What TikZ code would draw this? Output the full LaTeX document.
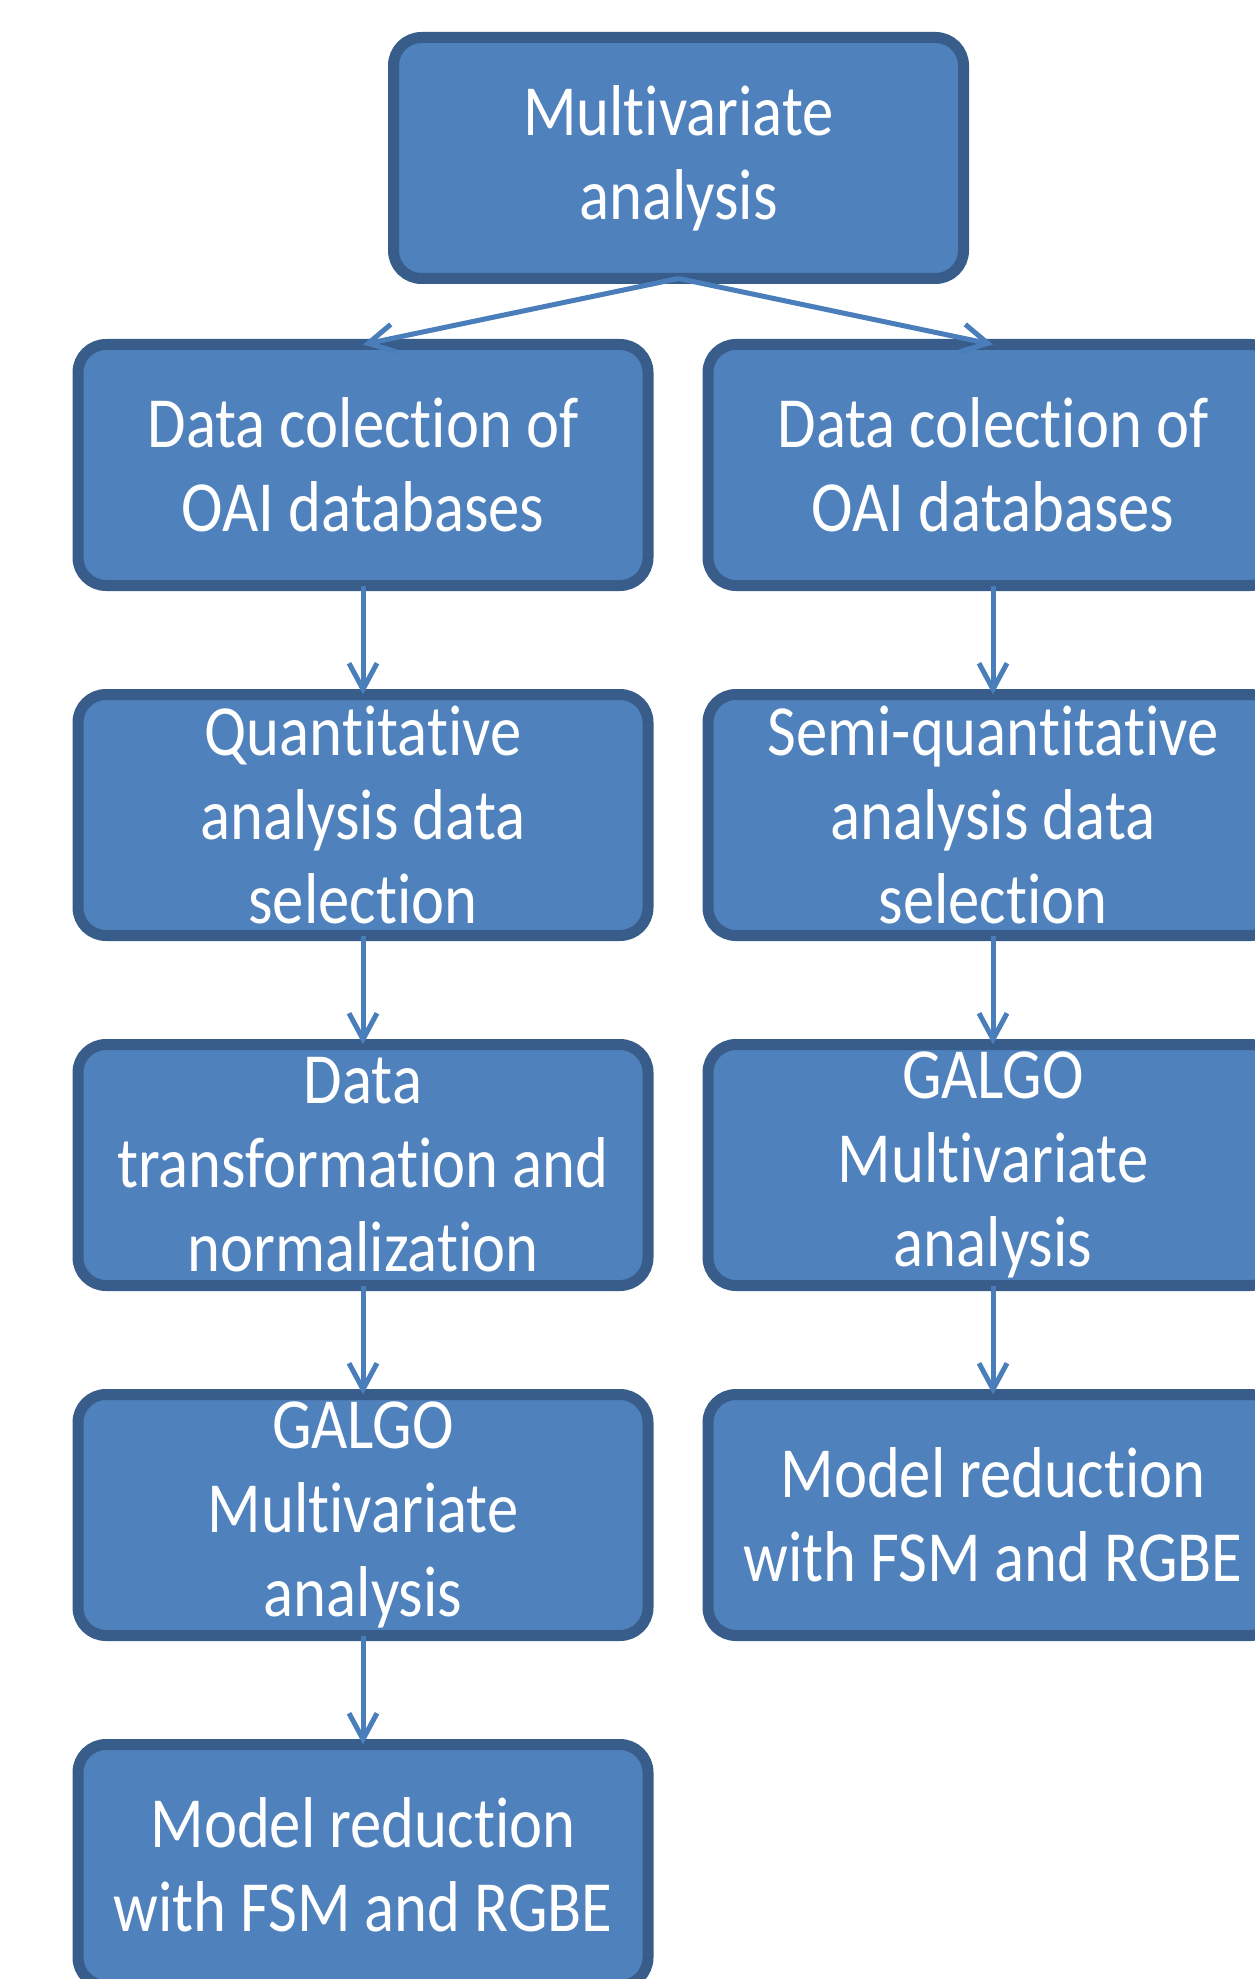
\documentclass[tikz,border=0pt]{standalone}
\usepackage{fontspec}
\setmainfont{Carlito}[FakeStretch=0.87, Ligatures=NoCommon]
\usepackage{xcolor}
\usepackage{tikz}
\usetikzlibrary{arrows.meta}
\definecolor{boxfill}{HTML}{4F81BD}
\definecolor{boxline}{HTML}{385D8A}
\definecolor{arrowblue}{HTML}{4A7EBB}

\begin{document}
\begin{tikzpicture}[
    flowbox/.style={draw=boxline, fill=boxfill, line width=5.5pt, rounded corners=14pt,
      minimum width=285pt, minimum height=120.5pt, outer sep=0pt, inner sep=0pt,
      align=center, text=white, font=\fontsize{36}{42}\selectfont},
    link/.style={arrowblue, line width=2.5pt, -{Straight Barb[length=13pt,width=14pt]}}]
  \useasboundingbox (0pt,0pt) rectangle (627pt,-989.5pt);

  \node[flowbox] (multi) at (339.25pt,-79pt) {Multivariate\\analysis};

  % left column: quantitative branch
  \node[flowbox] (colL)   at (181.5pt,-232.5pt) {Data colection of\\OAI databases};
  \node[flowbox] (quant)  at (181.5pt,-407.5pt) {Quantitative\\analysis data\\selection};
  \node[flowbox] (transf) at (181.5pt,-582.5pt) {Data\\transformation and\\normalization};
  \node[flowbox] (galgoL) at (181.5pt,-757.5pt) {GALGO\\Multivariate\\analysis};
  \node[flowbox] (redL)   at (181.5pt,-932.5pt) {Model reduction\\with FSM and RGBE};

  % right column: semi-quantitative branch
  \node[flowbox] (colR)   at (496.5pt,-232.5pt) {Data colection of\\OAI databases};
  \node[flowbox] (semi)   at (496.5pt,-407.5pt) {Semi-quantitative\\analysis data\\selection};
  \node[flowbox] (galgoR) at (496.5pt,-582.5pt) {GALGO\\Multivariate\\analysis};
  \node[flowbox] (redR)   at (496.5pt,-757.5pt) {Model reduction\\with FSM and RGBE};

  \draw[link] (multi.south) -- (colL.north);
  \draw[link] (multi.south) -- (colR.north);
  \foreach \a/\b in {colL/quant, quant/transf, transf/galgoL, galgoL/redL,
                     colR/semi, semi/galgoR, galgoR/redR}
    \draw[link] (\a.south) -- (\b.north);
\end{tikzpicture}
\end{document}
